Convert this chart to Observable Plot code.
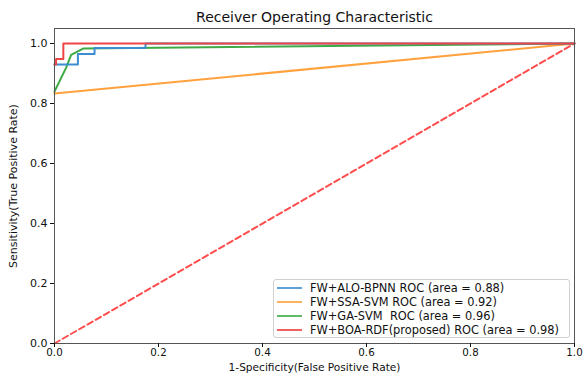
<!DOCTYPE html>
<html><head><meta charset="utf-8">
<script src="https://cdn.jsdelivr.net/npm/d3@7"></script>
<script src="https://cdn.jsdelivr.net/npm/@observablehq/plot@0.6"></script>
<style>
body{margin:0;background:#fff;font-family:"DejaVu Sans",sans-serif}
#wrap{position:relative;width:585px;height:373px}
#legend{position:absolute;left:273px;top:279px;width:297px;height:59px;border:1px solid #d0d0d0;border-radius:3px;background:rgba(255,255,255,0.85);font-size:11.4px;color:#111;box-sizing:border-box;padding:1px 0 0 3px}
#legend .row{display:flex;align-items:center;height:14px}
#legend .sw{width:25px;height:2px;margin-right:8px}
</style></head>
<body><div id="wrap"></div>
<script>
const seriesNames = ["FW+ALO-BPNN ROC (area = 0.88)","FW+SSA-SVM ROC (area = 0.92)","FW+GA-SVM  ROC (area = 0.96)","FW+BOA-RDF(proposed) ROC (area = 0.98)"];
const seriesColors = ["#3b8ed0","#ffa23e","#3fab46","#ee4646"];
const legendColors = ["#5ea2da","#ffb25e","#62bb66","#f06262"];
const aloFpr = [0,0.045,0.045,0.077,0.077,0.175,0.175,1];
const aloTpr = [0.93,0.93,0.965,0.965,0.985,0.985,1,1];
const ssaFpr = [0,1];
const ssaTpr = [0.833,1];
const gaFpr = [0,0.022,0.032,0.055,1];
const gaTpr = [0.84,0.918,0.962,0.983,1];
const boaFpr = [0,0.003,0.003,0.017,0.017,1];
const boaTpr = [0.93,0.93,0.948,0.948,1,1];
const diagFpr = [0,1];
const diagTpr = [0,1];
const xTicks = [0,0.2,0.4,0.6,0.8,1.0];
const yTicks = [0,0.2,0.4,0.6,0.8,1.0];

const fprs = [aloFpr, ssaFpr, gaFpr, boaFpr];
const tprs = [aloTpr, ssaTpr, gaTpr, boaTpr];
const rows = [];
fprs.forEach((f,i)=>f.forEach((x,j)=>rows.push({s:i,x,y:tprs[i][j]})));
const diag = diagFpr.map((x,j)=>({x,y:diagTpr[j]}));

const chart = Plot.plot({
  width:585, height:373,
  marginTop:28, marginLeft:54, marginRight:11, marginBottom:30,
  style:{fontFamily:"DejaVu Sans, sans-serif", fontSize:"11px", color:"#111", background:"#fff"},
  x:{domain:[0,1]},
  y:{domain:[0,1.05]},
  marks:[
    Plot.line(diag,{x:"x",y:"y",stroke:"#ff4d4d",strokeWidth:2,strokeDasharray:"6,3.5"}),
    ...[1,2,0,3].map(i=>Plot.line(rows.filter(d=>d.s===i),{x:"x",y:"y",stroke:seriesColors[i],strokeWidth:2})),
    Plot.frame({stroke:"#555",strokeWidth:1}),
    Plot.axisX({ticks:xTicks,tickFormat:d3.format(".1f"),tickSize:4,tickPadding:1,fontSize:10.3,label:null}),
    Plot.text(["1-Specificity(False Positive Rate)"],{frameAnchor:"bottom",dy:27,lineAnchor:"bottom",fontSize:10.6,text:d=>d,fill:"#111"}),
    Plot.axisY({ticks:yTicks,tickFormat:d3.format(".1f"),tickSize:4,tickPadding:3,fontSize:11,label:"Sensitivity(True Positive Rate)",labelAnchor:"center",labelArrow:"none",labelOffset:45}),
    Plot.text(["Receiver Operating Characteristic"],{frameAnchor:"top",dy:-16,fontSize:14,text:d=>d,fill:"#111"})
  ]
});
const wrap = document.getElementById("wrap");
wrap.appendChild(chart);
const leg = document.createElement("div");
leg.id = "legend";
seriesNames.forEach((n,i)=>{
  const r = document.createElement("div"); r.className="row";
  const sw = document.createElement("span"); sw.className="sw"; sw.style.background=legendColors[i];
  const t = document.createElement("span"); t.textContent=n; t.style.whiteSpace="pre";
  r.appendChild(sw); r.appendChild(t); leg.appendChild(r);
});
wrap.appendChild(leg);
</script></body></html>
